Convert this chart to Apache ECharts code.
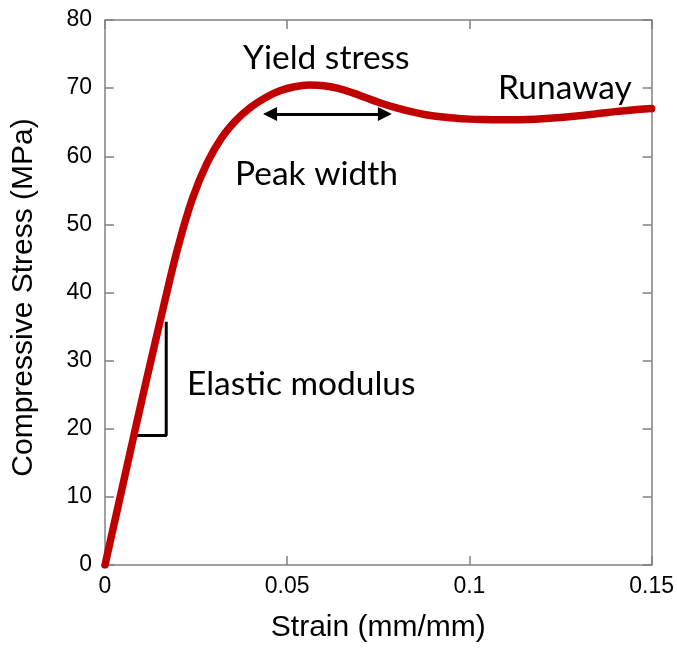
<!DOCTYPE html>
<html>
<head>
<meta charset="utf-8">
<title>Compressive stress–strain curve</title>
<script src="https://cdn.jsdelivr.net/npm/echarts@6/dist/echarts.min.js"></script>
<style>
  html, body { margin: 0; padding: 0; background: #ffffff; }
  #chart { width: 677px; height: 649px; }
</style>
</head>
<body>
<div id="chart"></div>
<script>
// Stress–strain curve of a polymer in compression
const strain = [0, 0.004, 0.008, 0.012, 0.016, 0.020, 0.024, 0.028, 0.032, 0.036,
  0.040, 0.044, 0.048, 0.052, 0.056, 0.060, 0.064, 0.068, 0.072, 0.076,
  0.080, 0.084, 0.088, 0.092, 0.096, 0.100, 0.104, 0.108, 0.112, 0.116,
  0.120, 0.124, 0.128, 0.132, 0.136, 0.140, 0.144, 0.148, 0.150];
const stress = [0, 9.6, 19.2, 28.6, 37.8, 46.6, 53.8, 59.0, 62.7, 65.3,
  67.2, 68.6, 69.6, 70.2, 70.45, 70.35, 69.95, 69.3, 68.5, 67.75,
  67.1, 66.55, 66.1, 65.8, 65.6, 65.45, 65.38, 65.35, 65.35, 65.4,
  65.5, 65.65, 65.85, 66.05, 66.3, 66.55, 66.75, 66.95, 67.0];

// Slope triangle marking the elastic modulus
const modulusStrain = [0.0088, 0.0168, 0.0168];
const modulusStress = [19, 19, 35.7];

// Double arrow marking the peak width
const peakWidthStrain = [0.0453, 0.0768];
const peakWidthStress = 66.2;

// Axis ticks
const xTicks = [0, 0.05, 0.1, 0.15];
const yTicks = [0, 10, 20, 30, 40, 50, 60, 70, 80];

// Annotation labels
const notes = [
  { text: 'Yield stress', x: 243, y: 58 },
  { text: 'Runaway', x: 498, y: 88.5 },
  { text: 'Peak width', x: 235, y: 174.5 },
  { text: 'Elastic modulus', x: 187, y: 384.5 }
];

const axisGrey = '#808080';
const tickFont = { fontFamily: 'Liberation Sans', fontSize: 23, color: '#000' };
const titleFont = { fontFamily: 'Liberation Sans', fontSize: 30, color: '#000' };

function xAxisCfg(showLabels, pos) {
  return {
    type: 'value', position: pos, min: xTicks[0], max: xTicks[xTicks.length - 1], interval: 0.05,
    axisLine: { show: true, onZero: false, lineStyle: { color: axisGrey, width: 1.5 } },
    axisTick: { show: true, inside: true, length: 9, lineStyle: { color: axisGrey, width: 1.5 } },
    axisLabel: showLabels ? Object.assign({ margin: 10, formatter: v => String(xTicks.find(t => Math.abs(t - v) < 1e-9) ?? v) }, tickFont) : { show: false },
    splitLine: { show: false },
    name: showLabels ? 'Strain (mm/mm)' : '',
    nameLocation: 'middle', nameGap: 48,
    nameTextStyle: titleFont
  };
}
function yAxisCfg(showLabels, pos) {
  return {
    type: 'value', position: pos, min: yTicks[0], max: yTicks[yTicks.length - 1], interval: 10,
    axisLine: { show: true, onZero: false, lineStyle: { color: axisGrey, width: 1.5 } },
    axisTick: { show: true, inside: true, length: 9, lineStyle: { color: axisGrey, width: 1.5 } },
    axisLabel: showLabels ? Object.assign({ margin: 13 }, tickFont) : { show: false },
    splitLine: { show: false },
    name: showLabels ? 'Compressive Stress (MPa)' : '',
    nameLocation: 'middle', nameGap: 66, nameRotate: 90,
    nameTextStyle: Object.assign({ padding: [0, 10, 0, 0] }, titleFont)
  };
}

const chart = echarts.init(document.getElementById('chart'), null, { renderer: 'canvas' });
chart.setOption({
  animation: false,
  backgroundColor: '#ffffff',
  grid: { left: 105, right: 24, top: 20, bottom: 84 },
  xAxis: [xAxisCfg(true, 'bottom'), xAxisCfg(false, 'top')],
  yAxis: [yAxisCfg(true, 'left'), yAxisCfg(false, 'right')],
  series: [
    {
      type: 'line',
      data: strain.map((s, i) => [s, stress[i]]),
      smooth: 0.4,
      symbol: 'none',
      lineStyle: { color: '#c00000', width: 7.5, cap: 'round' },
      z: 3
    },
    {
      type: 'line',
      data: modulusStrain.map((s, i) => [s, modulusStress[i]]),
      symbol: 'none',
      lineStyle: { color: '#000', width: 3 },
      z: 2
    },
    {
      type: 'lines',
      coordinateSystem: 'cartesian2d',
      symbol: ['triangle', 'triangle'],
      symbolSize: [14, 14],
      lineStyle: { color: '#000', width: 3, opacity: 1 },
      itemStyle: { color: '#000' },
      data: [{ coords: [[peakWidthStrain[0], peakWidthStress], [peakWidthStrain[1], peakWidthStress]] }],
      z: 4
    }
  ],
  graphic: notes.map(n => ({
    type: 'text',
    x: n.x, y: n.y,
    style: {
      text: n.text, fill: '#000',
      font: '33.5px Lato',
      textAlign: 'left', textVerticalAlign: 'middle'
    },
    z: 10
  }))
});
</script>
</body>
</html>
